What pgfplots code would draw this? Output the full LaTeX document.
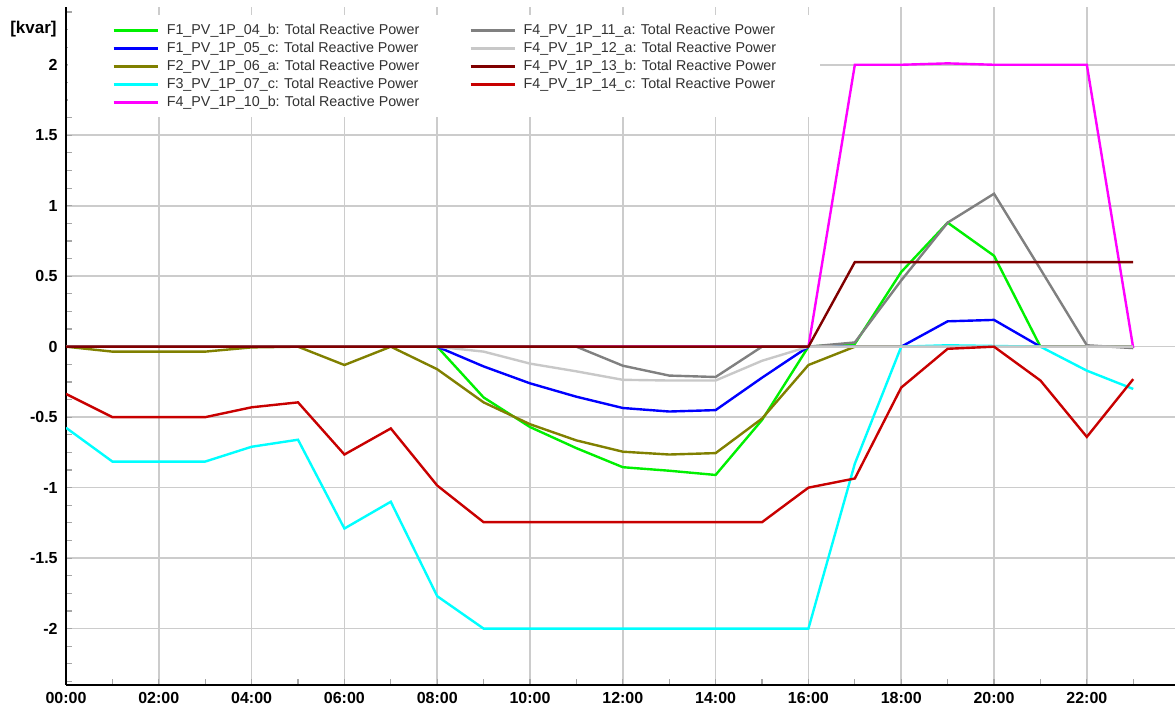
\documentclass[border=0pt]{standalone}
\usepackage{fontspec}
\setmainfont{Liberation Sans}
\usepackage{pgfplots}
\pgfplotsset{compat=1.18}
\definecolor{cgreen}{RGB}{0,240,0}
\definecolor{cblue}{RGB}{0,0,255}
\definecolor{colive}{RGB}{128,128,0}
\definecolor{ccyan}{RGB}{0,255,255}
\definecolor{cmag}{RGB}{255,0,255}
\definecolor{cgray}{RGB}{128,128,128}
\definecolor{clgray}{RGB}{200,200,200}
\definecolor{cdred}{RGB}{128,0,0}
\definecolor{cred}{RGB}{200,0,0}
\definecolor{legtext}{RGB}{50,50,50}
\begin{document}
\begin{tikzpicture}
\useasboundingbox (-33pt,-12.5pt) rectangle (554.5pt,342.5pt);
\begin{axis}[
  at={(0,0)}, anchor=south west,
  scale only axis, width=554.5pt, height=339pt,
  xmin=0, xmax=23.9, ymin=-2.4, ymax=2.41,
  axis x line*=bottom, axis y line*=left,
  axis line style={black, line width=1pt, -},
  xtick={0,2,4,6,8,10,12,14,16,18,20,22},
  xticklabels={00:00,02:00,04:00,06:00,08:00,10:00,12:00,14:00,16:00,18:00,20:00,22:00},
  minor xtick={1,3,5,7,9,11,13,15,17,19,21,23},
  ytick={-2,-1.5,-1,-0.5,0,0.5,1,1.5,2},
  yticklabels={-2,-1.5,-1,-0.5,0,0.5,1,1.5,2},
  minor ytick={-2.375,-2.25,-2.125,-1.875,-1.75,-1.625,-1.375,-1.25,-1.125,-0.875,-0.75,-0.625,-0.375,-0.25,-0.125,0.125,0.25,0.375,0.625,0.75,0.875,1.125,1.25,1.375,1.625,1.75,1.875,2.125,2.25,2.375},
  xmajorgrids, ymajorgrids,
  major grid style={gray!40, line width=0.8pt},
  tick align=inside,
  major tick length=3pt, minor tick length=3pt,
  tick style={gray!70, line width=0.6pt},
  /pgf/number format/assume math mode=true,
  tick label style={font=\bfseries\fontsize{8}{9.6}\selectfont, black},
  yticklabel style={inner sep=0pt, xshift=-4pt},
  xticklabel style={inner sep=0pt, yshift=-3.5pt},
  legend columns=2,
  legend cell align=left,
  legend image code/.code={\draw[#1] (0pt,0pt) -- (22pt,0pt);},
  legend style={
    font=\fontsize{7.15}{8.5}\selectfont, text=legtext,
    draw=none, fill=white,
    inner xsep=22pt, inner ysep=3pt,
    at={(rel axis cs:0,1)}, anchor=north west, xshift=1pt, yshift=-4pt,
    nodes={inner sep=0pt, text height=6.5pt, text depth=2.5pt},
    column sep=4pt,
    /tikz/every even column/.append style={column sep=25pt},
    row sep=0pt
  },
]
% F1_PV_1P_04_b
\addplot[cgreen, line width=1.2pt, forget plot] coordinates {
(0,0) (1,0) (2,0) (3,0) (4,0) (5,0) (6,0) (7,0) (8,0) (9,-0.36) (10,-0.57) (11,-0.72)
(12,-0.855) (13,-0.88) (14,-0.91) (15,-0.52) (16,0) (17,0.02) (18,0.53) (19,0.88)
(20,0.645) (21,0) (22,0) (23,0)};
% F1_PV_1P_05_c
\addplot[cblue, line width=1.2pt, forget plot] coordinates {
(0,0) (1,0) (2,0) (3,0) (4,0) (5,0) (6,0) (7,0) (8,0) (9,-0.14) (10,-0.26) (11,-0.355)
(12,-0.435) (13,-0.46) (14,-0.45) (15,-0.22) (16,0) (17,0) (18,0) (19,0.18)
(20,0.19) (21,0) (22,0) (23,0)};
% F2_PV_1P_06_a
\addplot[colive, line width=1.2pt, forget plot] coordinates {
(0,0) (1,-0.035) (2,-0.035) (3,-0.035) (4,-0.005) (5,0) (6,-0.13) (7,0) (8,-0.16) (9,-0.395)
(10,-0.55) (11,-0.665) (12,-0.745) (13,-0.765) (14,-0.755) (15,-0.51) (16,-0.13) (17,0)
(18,0) (19,0) (20,0) (21,0) (22,0) (23,0)};
% F3_PV_1P_07_c
\addplot[ccyan, line width=1.2pt, forget plot] coordinates {
(0,-0.575) (1,-0.815) (2,-0.815) (3,-0.815) (4,-0.71) (5,-0.66) (6,-1.29) (7,-1.10)
(8,-1.77) (9,-2) (10,-2) (11,-2) (12,-2) (13,-2) (14,-2) (15,-2) (16,-2) (17,-0.83)
(18,0) (19,0.01) (20,0.005) (21,0) (22,-0.17) (23,-0.30)};
% F4_PV_1P_10_b
\addplot[cmag, line width=1.2pt, forget plot] coordinates {
(0,0) (1,0) (2,0) (3,0) (4,0) (5,0) (6,0) (7,0) (8,0) (9,0) (10,0) (11,0) (12,0) (13,0)
(14,0) (15,0) (16,0) (17,2) (18,2) (19,2.01) (20,2) (21,2) (22,2) (23,-0.01)};
% F4_PV_1P_11_a
\addplot[cgray, line width=1.2pt, forget plot] coordinates {
(0,0) (1,0) (2,0) (3,0) (4,0) (5,0) (6,0) (7,0) (8,0) (9,0) (10,0) (11,0) (12,-0.135)
(13,-0.205) (14,-0.215) (15,0) (16,0) (17,0.03) (18,0.47) (19,0.88) (20,1.085) (21,0.55)
(22,0.01) (23,-0.01)};
% F4_PV_1P_12_a
\addplot[clgray, line width=1.2pt, forget plot] coordinates {
(0,0) (1,0) (2,0) (3,0) (4,0) (5,0) (6,0) (7,0) (8,0) (9,-0.035) (10,-0.12) (11,-0.175)
(12,-0.235) (13,-0.24) (14,-0.24) (15,-0.10) (16,0) (17,0) (18,0) (19,0) (20,0) (21,0)
(22,0) (23,0)};
% F4_PV_1P_13_b
\addplot[cdred, line width=1.2pt, forget plot] coordinates {
(0,0) (1,0) (2,0) (3,0) (4,0) (5,0) (6,0) (7,0) (8,0) (9,0) (10,0) (11,0) (12,0) (13,0)
(14,0) (15,0) (16,0) (17,0.6) (18,0.6) (19,0.6) (20,0.6) (21,0.6) (22,0.6) (23,0.6)};
% F4_PV_1P_14_c
\addplot[cred, line width=1.2pt, forget plot] coordinates {
(0,-0.335) (1,-0.50) (2,-0.50) (3,-0.50) (4,-0.43) (5,-0.395) (6,-0.765) (7,-0.58)
(8,-0.985) (9,-1.245) (10,-1.245) (11,-1.245) (12,-1.245) (13,-1.245) (14,-1.245)
(15,-1.245) (16,-1.0) (17,-0.935) (18,-0.29) (19,-0.015) (20,0) (21,-0.24) (22,-0.64)
(23,-0.23)};
% legend, row-wise in two columns
\addlegendimage{cgreen, line width=1.2pt}
\addlegendentry{F1\_PV\_1P\_04\_b: Total Reactive Power}
\addlegendimage{cgray, line width=1.2pt}
\addlegendentry{F4\_PV\_1P\_11\_a: Total Reactive Power}
\addlegendimage{cblue, line width=1.2pt}
\addlegendentry{F1\_PV\_1P\_05\_c: Total Reactive Power}
\addlegendimage{clgray, line width=1.2pt}
\addlegendentry{F4\_PV\_1P\_12\_a: Total Reactive Power}
\addlegendimage{colive, line width=1.2pt}
\addlegendentry{F2\_PV\_1P\_06\_a: Total Reactive Power}
\addlegendimage{cdred, line width=1.2pt}
\addlegendentry{F4\_PV\_1P\_13\_b: Total Reactive Power}
\addlegendimage{ccyan, line width=1.2pt}
\addlegendentry{F3\_PV\_1P\_07\_c: Total Reactive Power}
\addlegendimage{cred, line width=1.2pt}
\addlegendentry{F4\_PV\_1P\_14\_c: Total Reactive Power}
\addlegendimage{cmag, line width=1.2pt}
\addlegendentry{F4\_PV\_1P\_10\_b: Total Reactive Power}
\end{axis}
\node[anchor=east, font=\bfseries\fontsize{8.5}{10}\selectfont, inner sep=0pt] at (-4.5pt, 328pt) {[kvar]};
\end{tikzpicture}
\end{document}
